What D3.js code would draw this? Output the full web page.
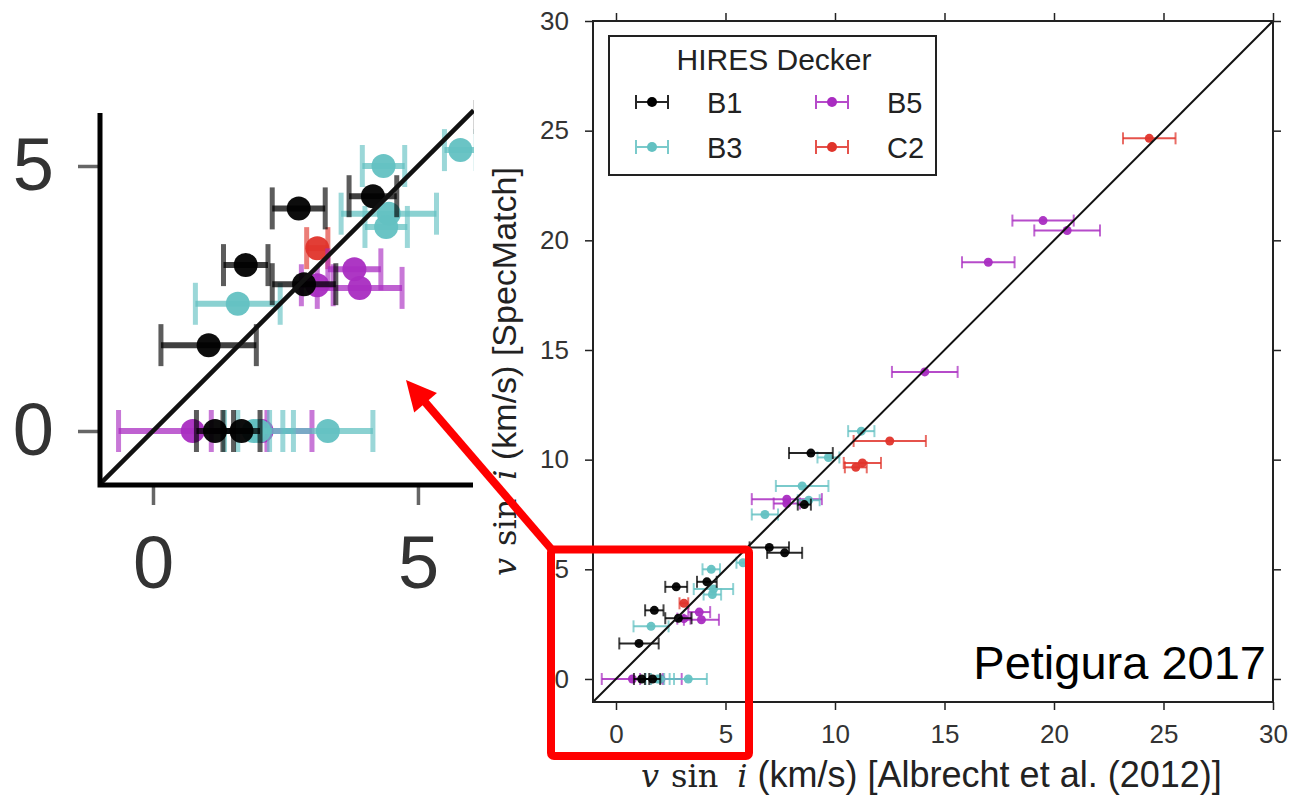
<!DOCTYPE html>
<html>
<head>
<meta charset="utf-8">
<script src="https://cdn.jsdelivr.net/npm/d3@7"></script>
<style>
body { margin: 0; background: #fff; }
text { font-family: "Liberation Sans", Arial, sans-serif; }
</style>
</head>
<body>
<svg id="chart" width="1304" height="803"></svg>
<script>
/*
vsini comparison: SpecMatch vs Albrecht et al. (2012), with a zoomed inset of the low end
*/

// ---- data (x = Albrecht, y = SpecMatch, xerr = Albrecht uncertainty) ----
var deckers = ["B1", "B3", "B5", "C2"];
var deckerColors = ["#000000", "#63c1c2", "#a92cc1", "#e0342b"];

var b1X   = [1.05, 1.75, 2.75, 2.85, 4.15, 1.17, 1.67, 7.0, 7.7, 8.6, 8.9];
var b1Y   = [1.62, 3.13, 4.2, 2.77, 4.43, 0, 0, 6.0, 5.75, 7.95, 10.3];
var b1Err = [0.9, 0.42, 0.5, 0.6, 0.45, 0.35, 0.35, 0.9, 0.8, 0.3, 1.0];

var b3X   = [1.6, 4.35, 4.45, 4.4, 5.8, 3.3, 2.0, 1.9, 6.8, 8.8, 8.5, 9.7, 11.2];
var b3Y   = [2.4, 5.0, 4.1, 3.85, 5.3, 0, 0, 0, 7.5, 8.15, 8.8, 10.1, 11.3];
var b3Err = [0.8, 0.4, 0.9, 0.4, 0.3, 0.85, 0.65, 0.3, 0.6, 0.5, 1.2, 0.5, 0.6];

var b5X   = [0.75, 2.05, 3.1, 3.8, 3.9, 7.8, 7.8, 14.1, 17.0, 19.5, 20.6];
var b5Y   = [0, 0, 2.75, 3.05, 2.7, 8.2, 8.0, 14.0, 19.0, 20.9, 20.45];
var b5Err = [1.4, 0.95, 0.3, 0.5, 0.8, 1.6, 0.6, 1.5, 1.2, 1.4, 1.5];

var c2X   = [3.1, 10.95, 11.25, 12.5, 24.35];
var c2Y   = [3.45, 9.65, 9.85, 10.85, 24.65];
var c2Err = [0.2, 0.5, 0.85, 1.65, 1.2];

var mainTicks = [0, 5, 10, 15, 20, 25, 30];
var insetTicks = [0, 5];

// build point table, drawn red first, black last
function zip(g, xs, ys, es) {
  return xs.map(function(v, i) { return {g: g, x: v, y: ys[i], e: es[i]}; });
}
var points = [].concat(
  zip("C2", c2X, c2Y, c2Err),
  zip("B5", b5X, b5Y, b5Err),
  zip("B3", b3X, b3Y, b3Err),
  zip("B1", b1X, b1Y, b1Err)
);
var color = d3.scaleOrdinal().domain(deckers).range(deckerColors);
var fmt = d3.format("d");

var svg = d3.select("#chart");

// ---- main panel ----
var x = d3.scaleLinear().domain([-1.05, 30]).range([593, 1273]);
var y = d3.scaleLinear().domain([-1.05, 30]).range([702, 21]);

function styleAxis(g) {
  g.select(".domain").remove();
  g.selectAll(".tick line").attr("stroke", "#222").attr("stroke-width", 1.5);
  g.selectAll(".tick text").attr("fill", "#333").style("font-size", "26px")
    .style("font-family", "'Liberation Sans', Arial, sans-serif");
}

svg.append("g").attr("transform", "translate(0,702)")
    .call(d3.axisBottom(x).tickValues(mainTicks).tickFormat(fmt).tickSize(8).tickPadding(15))
    .call(styleAxis);
svg.append("g").attr("transform", "translate(593,0)")
    .call(d3.axisLeft(y).tickValues(mainTicks).tickFormat(fmt).tickSize(8).tickPadding(16))
    .call(styleAxis);
svg.append("g").attr("transform", "translate(0,21)")
    .call(d3.axisTop(x).tickValues(mainTicks).tickSize(8).tickFormat(""))
    .call(styleAxis);
svg.append("g").attr("transform", "translate(1273,0)")
    .call(d3.axisRight(y).tickValues(mainTicks).tickSize(8).tickFormat(""))
    .call(styleAxis);

function drawPoints(parent, sx, sy, opt) {
  var pt = parent.selectAll(".pt")
      .data(points)
    .enter().append("g")
      .attr("class", "pt")
      .attr("stroke", function(d) { return color(d.g); })
      .attr("fill", function(d) { return color(d.g); });

  pt.append("line")
      .attr("x1", function(d) { return sx(d.x - d.e); })
      .attr("x2", function(d) { return sx(d.x + d.e); })
      .attr("y1", function(d) { return sy(d.y); })
      .attr("y2", function(d) { return sy(d.y); })
      .attr("stroke-width", opt.bar)
      .attr("stroke-opacity", opt.alpha);
  [-1, 1].forEach(function(s) {
    pt.append("line")
        .attr("x1", function(d) { return sx(d.x + s * d.e); })
        .attr("x2", function(d) { return sx(d.x + s * d.e); })
        .attr("y1", function(d) { return sy(d.y) - opt.cap; })
        .attr("y2", function(d) { return sy(d.y) + opt.cap; })
        .attr("stroke-width", opt.capW)
        .attr("stroke-opacity", opt.alpha * 0.85);
  });
  pt.append("circle")
      .attr("cx", function(d) { return sx(d.x); })
      .attr("cy", function(d) { return sy(d.y); })
      .attr("r", opt.r)
      .attr("stroke", "none")
      .attr("fill-opacity", 0.95);
}

svg.append("defs").append("clipPath").attr("id", "mainclip")
  .append("rect").attr("x", 593).attr("y", 21).attr("width", 680).attr("height", 681);

var mainG = svg.append("g").attr("clip-path", "url(#mainclip)");
drawPoints(mainG, x, y, {bar: 2, capW: 2, cap: 6, r: 4.5, alpha: 0.85});

mainG.append("line")
    .attr("x1", x(-1.05)).attr("y1", y(-1.05))
    .attr("x2", x(30)).attr("y2", y(30))
    .attr("stroke", "#111").attr("stroke-width", 2);

svg.append("rect")
    .attr("x", 593).attr("y", 21).attr("width", 680).attr("height", 681)
    .attr("fill", "none").attr("stroke", "#222").attr("stroke-width", 2);

// legend
var legend = svg.append("g");
legend.append("rect")
    .attr("x", 609).attr("y", 36).attr("width", 327).attr("height", 139)
    .attr("fill", "#fff").attr("stroke", "#222").attr("stroke-width", 2);
legend.append("text")
    .attr("x", 774).attr("y", 70).attr("text-anchor", "middle")
    .attr("fill", "#222").style("font-size", "30px")
    .text("HIRES Decker");

var legendPos = [[652, 102], [652, 147], [832, 102], [832, 147]];
var item = legend.selectAll(".item")
    .data(deckers)
  .enter().append("g")
    .attr("class", "item")
    .attr("transform", function(d, i) { return "translate(" + legendPos[i][0] + "," + legendPos[i][1] + ")"; });
item.append("path")
    .attr("d", "M-16,0H16M-16,-7V7M16,-7V7")
    .attr("stroke", function(d) { return color(d); })
    .attr("stroke-width", 2).attr("stroke-opacity", 0.85).attr("fill", "none");
item.append("circle").attr("r", 5).attr("fill", function(d) { return color(d); });
item.append("text")
    .attr("x", 55).attr("y", 11)
    .attr("fill", "#222").style("font-size", "29px")
    .text(function(d) { return d; });

svg.append("text")
    .attr("x", 1266).attr("y", 679).attr("text-anchor", "end")
    .attr("fill", "#000").style("font-size", "47px")
    .text("Petigura 2017");

// axis titles
function mathLabel(t, rest) {
  var serif = "'DejaVu Serif', 'Liberation Serif', serif";
  t.append("tspan").style("font-family", serif).style("font-style", "italic").style("font-size", "32px").text("v");
  t.append("tspan").attr("dx", 12).style("font-family", serif).style("font-size", "32px").text("sin");
  t.append("tspan").attr("dx", 19).style("font-family", serif).style("font-style", "italic").style("font-size", "32px").text("i");
  t.append("tspan").text(rest);
}
svg.append("text")
    .attr("x", 641).attr("y", 787)
    .attr("fill", "#222").style("font-size", "36px")
    .call(mathLabel, " (km/s) [Albrecht et al. (2012)]");
svg.append("text")
    .attr("transform", "translate(516,576)rotate(-90)")
    .attr("fill", "#222").style("font-size", "34px")
    .call(mathLabel, " (km/s) [SpecMatch]");

// ---- inset (zoom of the low end) ----
var ix = d3.scaleLinear().domain([-1, 6.05]).range([100, 473.6]);
var iy = d3.scaleLinear().domain([-1, 6]).range([484, 113]);

svg.select("defs").append("clipPath").attr("id", "insetclip")
  .append("rect").attr("x", 100).attr("y", 100).attr("width", 374).attr("height", 384);

var insetG = svg.append("g").attr("clip-path", "url(#insetclip)");
drawPoints(insetG, ix, iy, {bar: 6, capW: 5, cap: 21, r: 12, alpha: 0.75});
insetG.append("line")
    .attr("x1", ix(-1)).attr("y1", iy(-1))
    .attr("x2", ix(6.05)).attr("y2", iy(6.05))
    .attr("stroke", "#111").attr("stroke-width", 4.5);

function styleInsetAxis(g) {
  g.select(".domain").remove();
  g.selectAll(".tick line").attr("stroke", "#666").attr("stroke-width", 3.5);
  g.selectAll(".tick text").attr("fill", "#333").style("font-size", "74px")
    .style("font-family", "'Liberation Sans', Arial, sans-serif");
}
svg.append("g").attr("transform", "translate(0,485)")
    .call(d3.axisBottom(ix).tickValues(insetTicks).tickFormat(fmt).tickSize(20).tickPadding(30))
    .call(styleInsetAxis);
svg.append("g").attr("transform", "translate(100,0)")
    .call(d3.axisLeft(iy).tickValues(insetTicks).tickFormat(fmt).tickSize(22).tickPadding(24))
    .call(styleInsetAxis);
svg.append("path")
    .attr("d", "M100,113V485H473")
    .attr("fill", "none").attr("stroke", "#000").attr("stroke-width", 5);

// ---- red callout box and arrow ----
svg.append("rect")
    .attr("x", 551).attr("y", 549.5).attr("width", 198).attr("height", 206.5).attr("rx", 3)
    .attr("fill", "none").attr("stroke", "#ff0000").attr("stroke-width", 8);

var tail = [553, 551], tip = [406, 380];
var dx = tip[0] - tail[0], dy = tip[1] - tail[1], len = Math.sqrt(dx * dx + dy * dy);
var ux = dx / len, uy = dy / len, headL = 30, headW = 15;
var base = [tip[0] - ux * headL, tip[1] - uy * headL];
svg.append("line")
    .attr("x1", tail[0]).attr("y1", tail[1]).attr("x2", base[0] + ux * 4).attr("y2", base[1] + uy * 4)
    .attr("stroke", "#ff0000").attr("stroke-width", 8);
svg.append("path")
    .attr("d", "M" + tip + "L" + [base[0] - uy * headW, base[1] + ux * headW] + "L" + [base[0] + uy * headW, base[1] - ux * headW] + "Z")
    .attr("fill", "#ff0000");
</script>
</body>
</html>
